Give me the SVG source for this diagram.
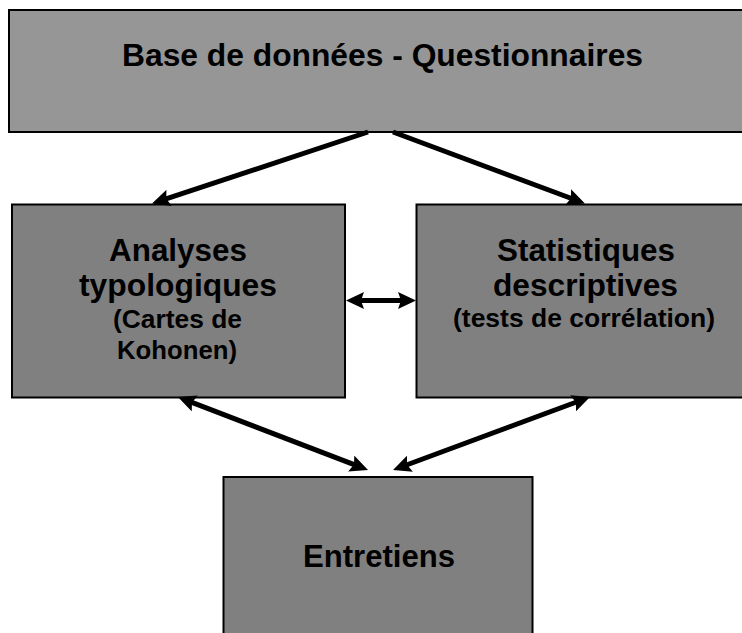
<svg xmlns="http://www.w3.org/2000/svg" width="742" height="633" viewBox="0 0 742 633">
<style>
.box{stroke:#000;stroke-width:2}
.top{fill:#969696}
.mid{fill:#808080}
.big{font-family:"Liberation Sans",Arial,sans-serif;font-weight:bold;font-size:31px;fill:#000;text-anchor:middle}
.small{font-family:"Liberation Sans",Arial,sans-serif;font-weight:bold;font-size:25px;fill:#000;text-anchor:middle}
.conn{stroke:#000;stroke-width:5;fill:none}
</style>
<defs>
<marker id="ah" markerUnits="userSpaceOnUse" viewBox="0 0 18 17" markerWidth="18" markerHeight="17" refX="8" refY="8.5" orient="auto-start-reverse">
<path d="M0,0 L18,8.5 L0,17 L3,8.5 Z" fill="#000"/>
</marker>
</defs>
<rect width="742" height="633" fill="#fff"/>
<g id="node-base">
<rect class="box top" x="9" y="10" width="760" height="122"/>
<text class="big" x="382.5" y="66" textLength="521" lengthAdjust="spacingAndGlyphs">Base de données - Questionnaires</text>
</g>
<g id="node-analyses">
<rect class="box mid" x="12" y="204.5" width="333" height="193"/>
<text class="big" x="178" y="261" textLength="138" lengthAdjust="spacingAndGlyphs">Analyses</text>
<text class="big" x="178" y="296" textLength="198" lengthAdjust="spacingAndGlyphs">typologiques</text>
<text class="small" x="177.5" y="328" textLength="129" lengthAdjust="spacingAndGlyphs">(Cartes de</text>
<text class="small" x="177" y="359" textLength="120" lengthAdjust="spacingAndGlyphs">Kohonen)</text>
</g>
<g id="node-statistiques">
<rect class="box mid" x="416.5" y="204.5" width="340" height="193"/>
<text class="big" x="586" y="261" textLength="178" lengthAdjust="spacingAndGlyphs">Statistiques</text>
<text class="big" x="585.5" y="296" textLength="185" lengthAdjust="spacingAndGlyphs">descriptives</text>
<text class="small" x="584" y="327" textLength="262" lengthAdjust="spacingAndGlyphs">(tests de corrélation)</text>
</g>
<g id="node-entretiens">
<rect class="box mid" x="223.5" y="477" width="309" height="170"/>
<text class="big" x="379" y="567" textLength="152" lengthAdjust="spacingAndGlyphs">Entretiens</text>
</g>
<g id="connectors">
<line class="conn" x1="368" y1="132" x2="161.5" y2="200.4" marker-end="url(#ah)"/>
<line class="conn" x1="393" y1="132" x2="575.6" y2="200" marker-end="url(#ah)"/>
<line class="conn" x1="356" y1="300.5" x2="406" y2="300.5" marker-start="url(#ah)" marker-end="url(#ah)"/>
<line class="conn" x1="187.3" y1="400.6" x2="358.7" y2="466.4" marker-start="url(#ah)" marker-end="url(#ah)"/>
<line class="conn" x1="580.6" y1="400.5" x2="402.4" y2="466.5" marker-start="url(#ah)" marker-end="url(#ah)"/>
</g>
</svg>
